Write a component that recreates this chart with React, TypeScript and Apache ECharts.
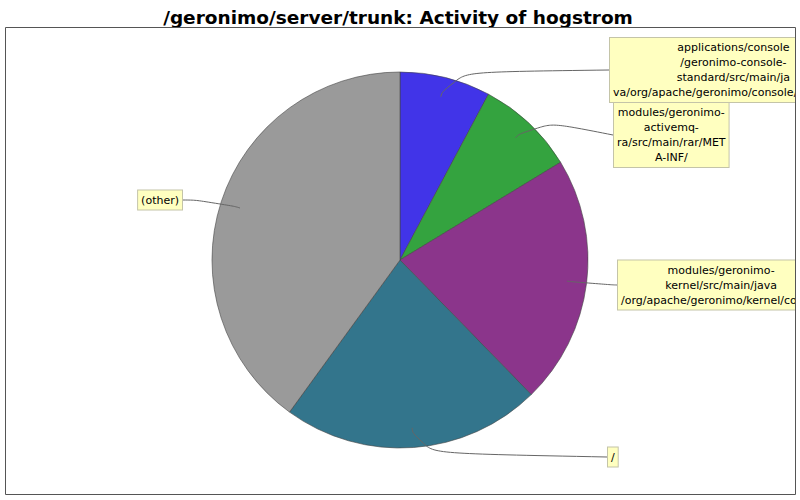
import React, { useEffect, useRef } from "react";
import * as echarts from "echarts";

const TITLE = "/geronimo/server/trunk: Activity of hogstrom";

// Category names, as wrapped in the label boxes
const categoryLines: string[][] = [
  ["applications/console", "/geronimo-console-", "standard/src/main/ja", "va/org/apache/geronimo/console/keystores/"],
  ["modules/geronimo-", "activemq-", "ra/src/main/rar/MET", "A-INF/"],
  ["modules/geronimo-", "kernel/src/main/java", "/org/apache/geronimo/kernel/config/"],
  ["/"],
  ["(other)"],
];
const categories = categoryLines.map((l) => l.join(""));

// Share of activity (percent)
const values = [7.8, 8.5, 21.4, 22.3, 40.0];

const colors = ["#4134E8", "#34A33F", "#8B358B", "#33758C", "#9A9A9A"];

// layout of the label boxes (page px): x of the edge the leader line meets, y of box center
const labelAnchors = [
  { x: 609, y: 70, side: "left" },
  { x: 613, y: 135, side: "left" },
  { x: 617, y: 285, side: "left" },
  { x: 607, y: 457, side: "left" },
  { x: 183, y: 200, side: "right" },
];

const CX = 400;
const CY = 260;
const R = 188;

export default function App() {
  const ref = useRef<HTMLDivElement>(null);

  useEffect(() => {
    if (!ref.current) return;
    const chart = echarts.init(ref.current, null, { renderer: "svg" });
    const total = values.reduce((a, b) => a + b, 0);
    const mids: number[] = [];
    let cum = 0;
    values.forEach((v) => {
      mids.push(((cum + v / 2) / total) * Math.PI * 2);
      cum += v;
    });

    const pieData = categories.map((name, i) => ({
      name,
      value: values[i],
      itemStyle: { color: colors[i] },
    }));

    chart.setOption({
      animation: false,
      backgroundColor: "#fff",
      title: {
        text: TITLE,
        left: "center",
        top: 3,
        textStyle: {
          fontFamily: "DejaVu Sans",
          fontWeight: "bold",
          fontSize: 18.5,
          color: "#000",
        },
      },
      graphic: [
        {
          type: "rect",
          z: 100,
          silent: true,
          shape: { x: 5.5, y: 27.5, width: 790, height: 467 },
          style: { fill: "none", stroke: "#555", lineWidth: 1 },
        },
      ],
      series: [
        {
          type: "pie",
          z: 2,
          center: [CX, CY],
          radius: R,
          startAngle: 90,
          clockwise: true,
          data: pieData,
          itemStyle: { borderColor: "#444", borderWidth: 0.6 },
          emphasis: { disabled: true },
          label: { show: false },
          labelLine: { show: false },
        },
        {
          type: "pie",
          z: 5,
          silent: true,
          center: [CX, CY],
          radius: R,
          startAngle: 90,
          clockwise: true,
          avoidLabelOverlap: false,
          data: categories.map((name, i) => ({ name, value: values[i] })),
          itemStyle: { color: "rgba(0,0,0,0)", borderWidth: 0 },
          emphasis: { disabled: true },
          label: {
            show: true,
            position: "outside",
            formatter: (p: any) => categoryLines[p.dataIndex].join("\n"),
            fontFamily: "DejaVu Sans",
            fontSize: 11,
            lineHeight: 15,
            color: "#000",
            align: "center",
            backgroundColor: "#FFFFC0",
            borderColor: "#c4c4a8",
            borderWidth: 1,
            padding: [2, 3],
          },
          labelLine: {
            show: true,
            smooth: 0.8,
            lineStyle: { color: "#666", width: 1 },
          },
          labelLayout: (params: any) => {
            const i = params.dataIndex;
            const a = labelAnchors[i];
            const w = params.labelRect.width;
            const ang = mids[i];
            const dx = Math.sin(ang);
            const dy = -Math.cos(ang);
            const start = [CX + dx * R * 0.895, CY + dy * R * 0.895];
            const elbow = [CX + dx * R * 1.03, CY + dy * R * 1.03];
            const end = [a.x, a.y];
            const x = a.side === "left" ? a.x + w / 2 : a.x - w / 2;
            return {
              x,
              y: a.y,
              align: "center",
              verticalAlign: "middle",
              hideOverlap: false,
              moveOverlap: false,
              labelLinePoints: [start, elbow, end],
            };
          },
        },
      ],
    });
    return () => chart.dispose();
  }, []);

  return (
    <div
      ref={ref}
      style={{ position: "fixed", left: 0, top: 0, width: 796, height: 500, background: "#fff" }}
    />
  );
}
